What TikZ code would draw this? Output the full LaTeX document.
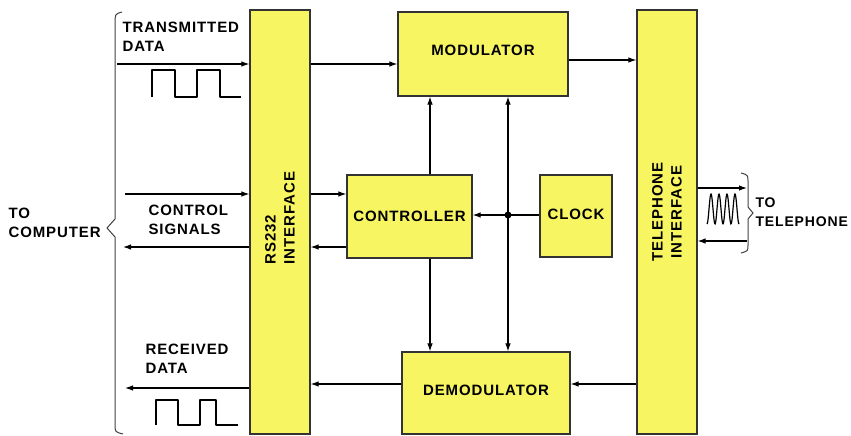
\documentclass[tikz,border=0pt]{standalone}
\usepackage{fontspec}
\usetikzlibrary{arrows.meta}
\newfontfamily\lblfont{Liberation Sans}[LetterSpace=6]
\definecolor{boxyellow}{RGB}{248,245,98}

\begin{document}
\begin{tikzpicture}[x=1pt, y=-1pt, line width=1.1pt, >={Latex[length=8pt,width=5.5pt]},
    block/.style={draw=black!80, fill=boxyellow, line width=1.2pt, inner sep=0pt},
    lbl/.style={font=\lblfont\bfseries\fontsize{15}{19}\selectfont, align=left, inner sep=0pt},
    wave/.style={line width=1.8pt, line join=round}]
        \useasboundingbox (0,0) rectangle (851,436);

        % Interface columns
        \node[block, minimum width=60pt, minimum height=424pt] (rs) at (280,222) {};
        \node[lbl, rotate=90] (rstxt) at (280,218) {RS232\\INTERFACE};
        \node[block, minimum width=60pt, minimum height=424pt] (tel) at (667,222) {};
        \node[lbl, rotate=90, align=center] (teltxt) at (667,212) {TELEPHONE\\INTERFACE};

        % Inner blocks
        \node[block, minimum width=170pt, minimum height=84pt] (mod) at (483,54) {};
        \node[lbl] (modtxt) at (483,50) {MODULATOR};
        \node[block, minimum width=125pt, minimum height=83pt] (ctrl) at (409.5,216.5) {};
        \node[lbl] (ctrltxt) at (409.5,216) {CONTROLLER};
        \node[block, minimum width=72pt, minimum height=82pt] (clk) at (576,216) {};
        \node[lbl] (clktxt) at (576,214) {CLOCK};
        \node[block, minimum width=168pt, minimum height=82pt] (demod) at (486,393) {};
        \node[lbl] (demodtxt) at (486,390) {DEMODULATOR};

        % Left labels
        \node[lbl, anchor=west] (comp) at (8,223) {TO\\COMPUTER};
        \node[lbl, anchor=west] (txtxt) at (122,37) {TRANSMITTED\\DATA};
        \node[lbl, anchor=west] (cttxt) at (148,220) {CONTROL\\SIGNALS};
        \node[lbl, anchor=west] (rxtxt) at (145,359) {RECEIVED\\DATA};
        \node[lbl, anchor=west, font=\lblfont\bfseries\fontsize{14}{19}\selectfont] (phone) at (755,212) {TO\\TELEPHONE};

        % Signal ends
        \coordinate (txin) at (117,64);
        \coordinate (ctin) at (125,194);
        \coordinate (ctout) at (123,247);
        \coordinate (rxout) at (125,388);
        \coordinate (rxin) at (600,384);
        \coordinate (modout) at (600,60);
        \coordinate (telout) at (747,188);
        \coordinate (telin) at (747,241);
        \coordinate (bus) at (508,215);
        \coordinate (cola) at (430,0);

        % Computer side
        \draw[->] (txin) -- (txin -| rs.west);
        \draw[->] (ctin) -- (ctin -| rs.west);
        \draw[->] (ctout -| rs.west) -- (ctout);
        \draw[->] (rxout -| rs.west) -- (rxout);

        % Data path
        \draw[->] (rs.east |- txin) -- (mod.west |- txin);
        \draw[->] (mod.east |- modout) -- (tel.west |- modout);
        \draw[->] (tel.west |- rxin) -- (demod.east |- rxin);
        \draw[->] (demod.west |- rxin) -- (rs.east |- rxin);
        \draw[->] (rs.east |- ctin) -- (ctrl.west |- ctin);
        \draw[->] (ctrl.west |- ctout) -- (rs.east |- ctout);

        % Control and clock lines
        \draw[->] (cola |- ctrl.north) -- (cola |- mod.south);
        \draw[->] (cola |- ctrl.south) -- (cola |- demod.north);
        \draw (clk.west |- bus) -- (bus);
        \draw[->] (bus) -- (ctrl.east |- bus);
        \draw[->] (bus) -- (bus |- mod.south);
        \draw[->] (bus) -- (bus |- demod.north);
        \fill (bus) circle (3.5pt);

        % Telephone side
        \draw[->] (tel.east |- telout) -- (telout);
        \draw[->] (telin) -- (tel.east |- telin);

        % Waveforms
        \draw[wave] (152,97) -- (152,70) -- (175,70) -- (175,97) -- (197,97) -- (197,70) -- (220,70) -- (220,97) -- (241,97);
        \draw[wave] (156,425) -- (156,400) -- (178,400) -- (178,425) -- (200,425) -- (200,400) -- (216,400) -- (216,425) -- (238,425);
        \draw[line width=1.2pt] plot[domain=0:4, samples=80] ({707+\x*8}, {209-15*sin(\x*360-90)});

        % Braces
        \draw[line width=1pt, black!75] (122,12) .. controls (115,14) .. (115,24) -- (115,219) -- (107,228) -- (115,237) -- (115,424) .. controls (115,432) .. (123,434);
        \draw[line width=1pt, black!75] (741,173) .. controls (748,175) .. (748,182) -- (748,207) -- (753,213) -- (748,219) -- (748,245) .. controls (748,251) .. (741,253);
    \end{tikzpicture}
\end{document}
